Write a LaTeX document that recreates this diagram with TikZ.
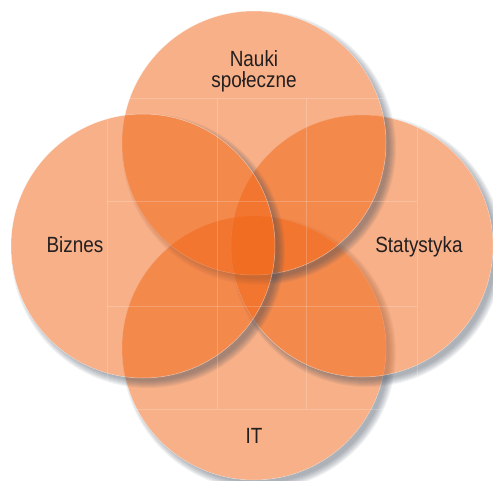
\documentclass[tikz,border=0pt]{standalone}
\usepackage{fontspec}
\setmainfont{Liberation Sans}[FakeStretch=0.86]
\usepackage{xcolor}
\usepackage{tikz}

\definecolor{vennorange}{RGB}{240,100,20}
\definecolor{shadowgray}{RGB}{70,80,95}
\definecolor{textgray}{RGB}{35,31,32}

\begin{document}
\begin{tikzpicture}[x=1pt, y=-1pt,
    every node/.style={font=\fontsize{22}{20.5}\selectfont, text=textgray, align=center},
    vennfill/.style={fill=vennorange, fill opacity=0.51},
    vennedge/.style={draw=white, draw opacity=0.5, line width=0.5pt},
    gridline/.style={draw=white, opacity=0.2, line width=0.6pt}]
    \useasboundingbox (0,0) rectangle (493,480);
    \foreach \cx/\cy/\r in {254/348/132, 362/246/131, 254/143/132, 143/246/132}{
      \begin{scope}
        \clip (-60,-60) -- (-60,560) -- (560,560) -- (560,-60) -- cycle (\cx,\cy) circle (\r);
        \foreach \k in {0,...,7}
          \fill[shadowgray, fill opacity=0.07] (\cx+5,\cy+5) circle ({\r-2+\k});
      \end{scope}
      \path[vennfill, vennedge] (\cx,\cy) circle (\r);
    }
    \foreach \gx in {107,217,306,417}
      \draw[gridline] (\gx,98) -- (\gx,409);
    \foreach \gy in {98,201,306,409}
      \draw[gridline] (107,\gy) -- (417,\gy);
    \node (nauki) at (254,71.5) {Nauki\\społeczne};
    \node (biznes) at (75,245) {Biznes};
    \node (statystyka) at (419,247) {Statystyka};
    \node (it) at (254,436) {IT};
  \end{tikzpicture}
\end{document}
